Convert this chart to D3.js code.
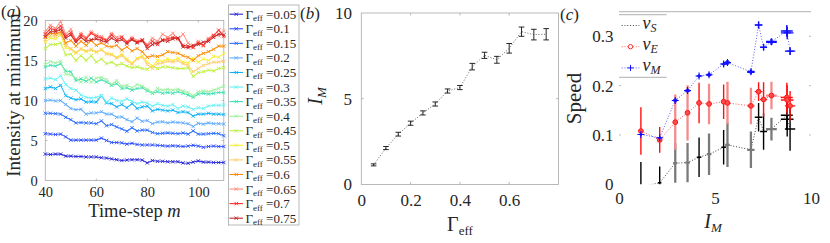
<!DOCTYPE html>
<html><head><meta charset="utf-8">
<script src="https://cdn.jsdelivr.net/npm/d3@7"></script>
<style>
body{margin:0;background:#fff}
svg{display:block}
</style>
</head><body>
<svg id="chart" width="830" height="243"></svg>
<script>
// ---------- DATA ----------
const timeSteps = [40,42,44,46,48,50,52,54,56,58,60,62,64,66,68,70,72,74,76,78,80,82,84,86,88,90,92,94,96,98,100,102,104,106,108,110];
const gammaLabels = ["0.05","0.1","0.15","0.2","0.25","0.3","0.35","0.4","0.45","0.5","0.55","0.6","0.65","0.7","0.75"];
const gammas = [0.05,0.1,0.15,0.2,0.25,0.3,0.35,0.4,0.45,0.5,0.55,0.6,0.65,0.7,0.75];

const g005 = [3.3,3.25,3.3,3.3,3.05,3.05,3.0,3.0,2.95,2.95,2.95, 2.85,2.8,2.7,2.6,2.5,2.55,2.6,2.6,2.55,2.2, 2.5,2.4,2.4,2.35,2.35,2.35,2.2,2.15,2.3,2.45, 2.3,2.3,2.25,2.25,2.25];
const g010 = [5.85,5.8,5.75,5.8,5.45,5.05,5.05,5.05,5.05,5.05,5.05, 5.3,5.0,4.75,4.75,4.7,4.55,4.65,4.5,4.45,4.45, 4.45,4.4,4.35,4.3,4.35,4.3,4.25,4.3,4.4,4.3, 4.15,4.25,4.3,4.25,4.25];
const g015 = [8.4,8.4,8.35,8.3,7.9,7.6,7.2,7.25,7.2,7.2,7.1, 7.45,6.85,7.0,6.7,6.45,6.15,6.6,6.2,6.3,6.3, 6.0,5.85,5.9,5.95,5.9,5.85,5.95,5.8,6.2,5.8, 5.8,5.85,5.9,5.85,5.6];
const g020 = [10.0,10.05,9.95,10.0,9.5,9.0,8.85,8.9,8.3,8.45,8.45, 8.6,8.3,8.3,7.9,7.95,7.6,7.35,7.8,7.4,7.5, 7.1,7.3,7.35,7.2,7.3,7.25,7.2,7.1,6.75,7.15, 7.05,7.2,7.1,7.1,7.05];
const g025 = [11.5,11.7,11.5,11.9,10.6,10.3,10.1,10.2,9.8,9.85,9.8, 10.6,9.7,9.6,9.2,9.5,9.1,9.6,9.0,9.2,9.3, 8.7,8.9,8.8,8.7,8.8,8.5,8.6,8.5,8.05,8.3, 8.3,8.4,8.3,8.3,8.25];
const g030 = [12.7,12.8,12.6,13.1,12.0,11.5,11.3,10.7,10.4,10.3,10.4, 10.6,9.8,10.3,10.0,9.9,10.2,9.9,9.6,9.8,9.7, 9.3,9.6,9.4,9.3,9.5,9.0,9.3,9.2,8.9,9.1, 9.0,9.3,9.4,9.4,9.45];
const g035 = [14.2,14.4,14.3,14.6,13.7,13.6,12.5,12.7,12.4,12.8,12.3, 12.6,12.3,11.9,12.1,11.5,11.6,11.3,11.5,11.6,11.2, 10.9,11.1,10.9,11.0,10.9,11.1,10.9,10.7,10.4,10.8, 10.9,10.8,10.9,11.0,11.0];
const g040 = [14.5,14.9,14.7,14.9,13.3,13.2,12.8,12.3,12.9,12.3,12.8, 12.9,12.6,12.0,12.5,11.8,11.9,11.6,12.0,11.8,11.4, 11.0,11.5,11.3,11.4,11.3,11.4,11.2,11.0,10.6,11.1, 11.2,11.1,11.3,11.5,11.8];
const g045 = [16.5,17.0,17.0,17.2,15.7,15.8,15.0,15.6,15.0,15.6,14.8, 15.2,14.6,14.8,14.4,14.6,14.3,14.1,14.2,14.0,13.9, 14.3,14.0,14.2,14.2,14.1,14.0,14.0,14.1,13.0,13.5, 13.6,13.8,13.7,14.0,14.1];
const g050 = [17.3,17.8,17.7,18.2,16.6,16.4,15.9,16.4,16.1,16.3,16.0, 16.4,15.9,15.8,15.4,15.8,15.2,14.7,15.3,15.6,14.8, 14.3,15.0,14.9,15.2,15.0,15.3,14.8,14.7,15.3,14.8, 15.2,15.0,15.5,15.4,15.9];
const g055 = [17.6,18.1,18.0,18.4,16.9,16.5,16.0,16.5,16.2,16.4,16.1, 16.3,15.8,15.7,15.3,15.6,15.0,14.5,15.2,15.4,14.5, 14.0,14.6,14.7,14.9,14.8,15.0,14.6,14.4,13.6,14.0, 14.4,14.6,14.8,14.8,14.9];
const g060 = [17.9,18.4,18.3,18.6,17.2,17.5,16.8,17.4,16.9,17.5,16.9, 17.2,16.8,16.7,16.9,16.3,16.7,16.2,16.5,16.1,15.4, 15.6,15.5,15.7,16.1,16.0,15.9,15.6,15.4,15.0,15.6, 15.9,16.1,16.4,16.8,16.8];
const g065 = [18.6,19.4,19.0,19.9,18.3,18.9,17.6,18.4,17.9,18.6,18.2, 18.0,17.6,18.4,17.9,18.0,17.4,17.9,17.5,17.4,17.0, 17.8,17.4,18.3,17.9,18.4,17.6,18.3,17.2,16.7,17.4, 16.8,17.8,18.2,18.1,18.7];
const g070 = [18.3,19.0,18.8,19.3,18.0,18.5,17.5,18.2,17.7,18.4,18.0, 17.8,17.5,18.2,17.6,17.9,17.3,17.7,17.3,17.6,16.8, 17.4,17.0,17.6,17.7,17.9,17.8,16.9,16.8,16.6,17.2, 16.9,17.6,18.1,18.8,18.0];
const g075 = [18.0,18.6,18.6,18.9,17.8,18.2,17.3,17.9,17.4,17.6,17.7, 17.5,17.3,17.8,17.4,17.6,17.1,17.6,17.2,17.5,16.5, 17.0,17.2,17.5,17.4,17.7,17.8,16.7,16.6,16.9,17.0, 17.3,17.4,17.9,18.3,18.2];
const intensitySeries = [g005,g010,g015,g020,g025,g030,g035,g040,g045,g050,g055,g060,g065,g070,g075];

// panel (b): I_M vs Gamma_eff
const IM    = [1.14,2.12,2.93,3.57,4.17,4.69,5.45,5.65,6.87,7.53,7.27,7.94,8.91,8.74,8.76];
const IMerr = [0.06,0.09,0.11,0.12,0.12,0.12,0.12,0.12,0.19,0.18,0.2,0.28,0.27,0.31,0.33];

// panel (c): speeds vs I_M (Gamma order)
const vS    = [-0.005,0.003,0.043,0.044,0.055,0.061,0.075,0.08,0.07,0.107,0.136,0.112,0.112,0.14,0.132];
const vSerr = [0.05,0.033,0.04,0.04,0.04,0.042,0.035,0.045,0.037,0.037,0.029,0.023,0.044,0.03,0.035];
const vE    = [0.108,0.090,0.126,0.145,0.165,0.163,0.1675,0.165,0.159,0.172,0.188,0.18,0.159,0.176,0.171];
const vEerr = [0.048,0.026,0.056,0.056,0.041,0.041,0.035,0.043,0.037,0.035,0.019,0.028,0.03,0.03,0.03];
const vM    = [0.101,0.0945,0.170,0.19,0.2196,0.222,0.244,0.247,0.228,0.278,0.323,0.289,0.27,0.311,0.307];
const vMerr = [0.003,0.003,0.004,0.004,0.004,0.004,0.005,0.005,0.005,0.006,0.007,0.006,0.008,0.012,0.013];
const barStrong = [1,1,0,0,1,0,1,0,0,1,1,0,1,1,1];

// tick labels
const aXTicks = [40,60,80,100], aYTicks = [0,5,10,15,20];
const bXTicks = [0,0.2,0.4,0.6], bXLabels = ["0","0.2","0.4","0.6"], bYTicks = [0,5,10];
const cXTicks = [0,5,10], cYTicks = [0,0.1,0.2,0.3], cYLabels = ["0","0.1","0.2","0.3"];

// ---------- STYLE ----------
const FONT = '"Liberation Serif", "Times New Roman", serif';
const TXT = "#262626", BOX = "#a8a8a8";
const palette = ["#2424d8","#2a4cff","#2a6cff","#5eaaff","#0cb0f4","#66f0f4","#3ee0b4","#9cf09c","#bcf03c","#f4f030","#ffcc70","#ff8a00","#ff8c7c","#ff2a2a","#c42424"];

const svg = d3.select("#chart");
svg.append("rect").attr("width",830).attr("height",243).attr("fill","#fff");

function styleAxis(g, size){
  g.select(".domain").remove();
  g.selectAll("line").remove();
  g.selectAll("text").attr("font-family",FONT).attr("font-size",size).attr("fill",TXT);
  g.attr("font-family",null).attr("font-size",null);
}
function innerTicks(g, x, y, xt, yt, len, sides){
  const [x0,x1] = x.range(), [y0,y1] = y.range();
  xt.forEach(t=>{
    if(sides.bottom) g.append("line").attr("x1",x(t)).attr("x2",x(t)).attr("y1",y0).attr("y2",y0-len);
    if(sides.top) g.append("line").attr("x1",x(t)).attr("x2",x(t)).attr("y1",y1).attr("y2",y1+len);
  });
  yt.forEach(t=>{
    if(sides.left) g.append("line").attr("x1",x0).attr("x2",x0+len).attr("y1",y(t)).attr("y2",y(t));
    if(sides.right) g.append("line").attr("x1",x1).attr("x2",x1-len).attr("y1",y(t)).attr("y2",y(t));
  });
  g.selectAll("line").attr("stroke",BOX).attr("stroke-width",0.8);
}

// ---------- PANEL (a) ----------
const xa = d3.scaleLinear().domain([40,110]).range([45.3,223.8]);
const ya = d3.scaleLinear().domain([0,20]).range([180.5,20.5]);
const ga = svg.append("g");
ga.append("rect").attr("x",xa(40)).attr("y",ya(20)).attr("width",xa(110)-xa(40)).attr("height",ya(0)-ya(20))
  .attr("fill","#fff").attr("stroke",BOX).attr("stroke-width",0.8);
innerTicks(ga.append("g"), xa, ya, aXTicks.filter(t=>t>40), aYTicks.filter(t=>t>0&&t<20), 2, {bottom:1,top:1,left:1,right:1});
const lineA = d3.line().x((d,i)=>xa(timeSteps[i])).y(d=>ya(d));
const timesSym = d3.symbol().type(d3.symbolTimes).size(9);
intensitySeries.forEach((s,k)=>{
  const gs = ga.append("g");
  gs.append("path").attr("d",lineA(s)).attr("fill","none").attr("stroke",palette[k]).attr("stroke-width",1.05).attr("stroke-opacity",0.9);
  gs.selectAll("path.m").data(s).join("path").attr("class","m")
    .attr("transform",(d,i)=>`translate(${xa(timeSteps[i])},${ya(d)})`)
    .attr("d",timesSym).attr("fill","none").attr("stroke",palette[k]).attr("stroke-width",0.9);
});
styleAxis(ga.append("g").attr("transform",`translate(0,${ya(0)})`).call(d3.axisBottom(xa).tickValues(aXTicks).tickSize(0).tickPadding(6.6)), 14.5);
styleAxis(ga.append("g").attr("transform",`translate(${xa(40)},0)`).call(d3.axisLeft(ya).tickValues(aYTicks).tickSize(0).tickPadding(7.6)), 14.5);
ga.append("text").attr("x",134.5).attr("y",217).attr("text-anchor","middle").attr("font-family",FONT).attr("font-size",18.5).attr("fill",TXT)
  .call(t=>{t.append("tspan").text("Time-step "); t.append("tspan").attr("font-style","italic").text("m");});
ga.append("text").attr("transform","translate(20,95) rotate(-90)").attr("text-anchor","middle").attr("font-family",FONT).attr("font-size",19).attr("fill",TXT)
  .text("Intensity at minimum");
ga.append("text").attr("x",1).attr("y",16.5).attr("font-family",FONT).attr("font-size",17).attr("fill",TXT)
  .call(t=>{t.append("tspan").text("("); t.append("tspan").attr("font-style","italic").text("a"); t.append("tspan").text(")");});

// legend (a)
const lg = svg.append("g");
lg.append("rect").attr("x",228.5).attr("y",5).attr("width",70.5).attr("height",220).attr("fill","#fff").attr("stroke",BOX).attr("stroke-width",0.8);
gammaLabels.forEach((lab,k)=>{
  const yy = 14.2 + k*14.57;
  lg.append("line").attr("x1",229.5).attr("x2",243).attr("y1",yy).attr("y2",yy).attr("stroke",palette[k]).attr("stroke-width",1.1);
  lg.append("path").attr("transform",`translate(236.3,${yy})`).attr("d",timesSym).attr("fill","none").attr("stroke",palette[k]).attr("stroke-width",0.9);
  const t = lg.append("text").attr("x",245.5).attr("y",yy+4.5).attr("font-family",FONT).attr("font-size",13).attr("fill",TXT);
  t.append("tspan").text("Γ");
  t.append("tspan").attr("font-size",9).attr("dy",2.5).text("eff");
  t.append("tspan").attr("dy",-2.5).text(" =" + lab);
});

// ---------- PANEL (b) ----------
const xb = d3.scaleLinear().domain([0,0.8]).range([361.3,558.5]);
const yb = d3.scaleLinear().domain([0,10]).range([184.4,13]);
const gb = svg.append("g");
gb.append("rect").attr("x",xb(0)).attr("y",yb(10)).attr("width",xb(0.8)-xb(0)).attr("height",yb(0)-yb(10))
  .attr("fill","#fff").attr("stroke",BOX).attr("stroke-width",0.8);
innerTicks(gb.append("g"), xb, yb, bXTicks.filter(t=>t>0), [5], 2.5, {bottom:1,top:1,left:1,right:1});
const lineB = d3.line().x((d,i)=>xb(gammas[i])).y(d=>yb(d));
gb.append("path").attr("d",lineB(IM)).attr("fill","none").attr("stroke","#555").attr("stroke-width",0.9).attr("stroke-dasharray","1,1.8");
const eb = gb.append("g").attr("stroke","#111").attr("stroke-width",0.9);
IM.forEach((v,i)=>{
  const x = xb(gammas[i]), yt = yb(v+IMerr[i]), yl = yb(v-IMerr[i]);
  eb.append("line").attr("x1",x).attr("x2",x).attr("y1",yt).attr("y2",yl);
  eb.append("line").attr("x1",x-2.8).attr("x2",x+2.8).attr("y1",yt).attr("y2",yt);
  eb.append("line").attr("x1",x-2.8).attr("x2",x+2.8).attr("y1",yl).attr("y2",yl);
});
styleAxis(gb.append("g").attr("transform",`translate(0,${yb(0)})`).call(d3.axisBottom(xb).tickValues(bXTicks).tickFormat((d,i)=>bXLabels[i]).tickSize(0).tickPadding(9.5)), 17);
styleAxis(gb.append("g").attr("transform",`translate(${xb(0)},0)`).call(d3.axisLeft(yb).tickValues(bYTicks).tickSize(0).tickPadding(9.3)), 17);
gb.append("text").attr("x",460).attr("y",231).attr("text-anchor","middle").attr("font-family",FONT).attr("font-size",20).attr("fill",TXT)
  .call(t=>{t.append("tspan").text("Γ"); t.append("tspan").attr("font-size",13).attr("dy",4).text("eff");});
gb.append("text").attr("transform","translate(322,96) rotate(-90)").attr("text-anchor","middle").attr("font-family",FONT).attr("font-size",20).attr("fill",TXT)
  .call(t=>{t.append("tspan").attr("font-style","italic").text("I"); t.append("tspan").attr("font-style","italic").attr("font-size",13).attr("dy",4).text("M");});
gb.append("text").attr("x",300).attr("y",19).attr("font-family",FONT).attr("font-size",17).attr("fill",TXT)
  .call(t=>{t.append("tspan").text("("); t.append("tspan").attr("font-style","italic").text("b"); t.append("tspan").text(")");});

// ---------- PANEL (c) ----------
const xc = d3.scaleLinear().domain([0,10]).range([619,811]);
const yc = d3.scaleLinear().domain([0,0.35]).range([184.3,11.7]);
const gc = svg.append("g");
gc.append("defs").append("clipPath").attr("id","clipc").append("rect")
  .attr("x",xc(0)).attr("y",yc(0.35)).attr("width",xc(10)-xc(0)).attr("height",yc(0)-yc(0.35));
gc.append("line").attr("x1",xc(0)).attr("x2",xc(10)).attr("y1",yc(0.35)).attr("y2",yc(0.35)).attr("stroke",BOX).attr("stroke-width",0.9);
innerTicks(gc.append("g"), xc, yc, [], cYTicks.filter(t=>t>0), 2, {left:1,right:1});
const order = d3.range(IM.length).sort((a,b)=>IM[a]-IM[b]);
const plot = gc.append("g").attr("clip-path","url(#clipc)");
function series(vals, errs, strong, light, lineCol){
  const ln = d3.line().x(i=>xc(IM[i])).y(i=>yc(vals[i]));
  plot.append("path").attr("d",ln(order)).attr("fill","none").attr("stroke",lineCol).attr("stroke-width",1).attr("stroke-dasharray","1,1.8");
  const g = plot.append("g");
  order.forEach(i=>{
    const col = barStrong[i] ? strong : light;
    const w = barStrong[i] ? 1.4 : 2.3;
    g.append("line").attr("x1",xc(IM[i])).attr("x2",xc(IM[i])).attr("y1",yc(vals[i]-errs[i])).attr("y2",yc(vals[i]+errs[i])).attr("stroke",col).attr("stroke-width",w);
    g.append("line").attr("x1",xc(IM[i]-IMerr[i])).attr("x2",xc(IM[i]+IMerr[i])).attr("y1",yc(vals[i])).attr("y2",yc(vals[i])).attr("stroke",col).attr("stroke-width",w);
  });
  return g;
}
series(vS, vSerr, "#000", "#7a7a7a", "#444");
const gE = series(vE, vEerr, "#ff1010", "#f48a8a", "#ff5a5a");
order.forEach(i=>{
  gE.append("circle").attr("cx",xc(IM[i])).attr("cy",yc(vE[i])).attr("r",2.4).attr("fill","#ff4a4a").attr("stroke","#ff1a1a").attr("stroke-width",1);
});
const gM = series(vM, vMerr, "#1010ff", "#1010ff", "#5a5aff");
order.forEach(i=>{
  const x = xc(IM[i]), y = yc(vM[i]);
  gM.append("path").attr("d",`M${x-3.5},${y}H${x+3.5}M${x},${y-3.5}V${y+3.5}`).attr("stroke","#1010ff").attr("stroke-width",1.1);
});
styleAxis(gc.append("g").attr("transform",`translate(0,${yc(0)})`).call(d3.axisBottom(xc).tickValues(cXTicks).tickSize(0).tickPadding(8.1)), 17);
styleAxis(gc.append("g").attr("transform",`translate(${xc(0)},0)`).call(d3.axisLeft(yc).tickValues(cYTicks).tickFormat((d,i)=>cYLabels[i]).tickSize(0).tickPadding(5.5)), 17);
gc.append("text").attr("x",713).attr("y",227.5).attr("text-anchor","middle").attr("font-family",FONT).attr("font-size",20).attr("fill",TXT)
  .call(t=>{t.append("tspan").attr("font-style","italic").text("I"); t.append("tspan").attr("font-style","italic").attr("font-size",13).attr("dy",4).text("M");});
gc.append("text").attr("transform","translate(581,98.5) rotate(-90)").attr("text-anchor","middle").attr("font-family",FONT).attr("font-size",21).attr("fill",TXT)
  .text("Speed");
gc.append("text").attr("x",560).attr("y",19.5).attr("font-family",FONT).attr("font-size",17).attr("fill",TXT)
  .call(t=>{t.append("tspan").text("("); t.append("tspan").attr("font-style","italic").text("c"); t.append("tspan").text(")");});

// legend (c)
const lc = gc.append("g");
lc.append("rect").attr("x",619).attr("y",14.7).attr("width",47.7).attr("height",62.6).attr("fill","#fff");
lc.append("line").attr("x1",619).attr("x2",666.7).attr("y1",14.7).attr("y2",14.7).attr("stroke",BOX).attr("stroke-width",0.9);
lc.append("line").attr("x1",619).attr("x2",666.7).attr("y1",77.3).attr("y2",77.3).attr("stroke",BOX).attr("stroke-width",0.9);
const legC = [{s:"S",col:"#444",mk:null},{s:"E",col:"#ff5a5a",mk:"o"},{s:"M",col:"#5a5aff",mk:"+"}];
legC.forEach((e,k)=>{
  const yy = 25.5 + k*21.2;
  lc.append("line").attr("x1",621.7).attr("x2",639.3).attr("y1",yy).attr("y2",yy).attr("stroke",e.col).attr("stroke-width",1).attr("stroke-dasharray","1,1.8");
  if(e.mk==="o") lc.append("circle").attr("cx",630.5).attr("cy",yy).attr("r",2.2).attr("fill","#fff").attr("stroke","#ff2a2a").attr("stroke-width",1);
  if(e.mk==="+") lc.append("path").attr("d",`M627.5,${yy}H633.5M630.5,${yy-3}V${yy+3}`).attr("stroke","#1010ff").attr("stroke-width",1);
  const t = lc.append("text").attr("x",642.5).attr("y",yy+3.5).attr("font-family",FONT).attr("font-size",18).attr("font-style","italic").attr("fill",TXT);
  t.append("tspan").text("v");
  t.append("tspan").attr("font-size",12).attr("dy",3).text(e.s);
});
</script>
</body></html>
